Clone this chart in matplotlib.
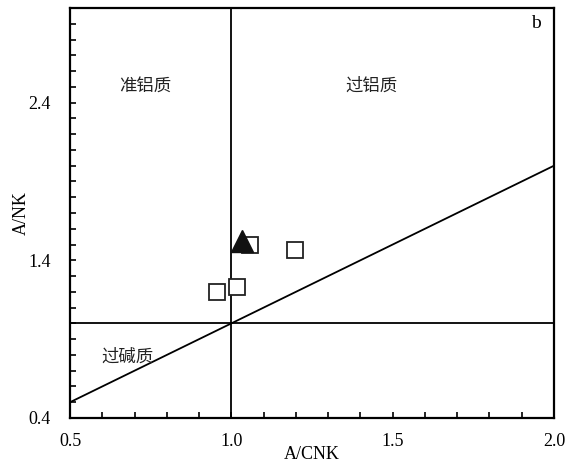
import matplotlib
matplotlib.use("Agg")
import matplotlib.pyplot as plt
import numpy as np
from matplotlib.ticker import MultipleLocator, FixedLocator

plt.rcParams['font.family'] = ['Liberation Serif', 'Noto Sans CJK SC']

# Data
square_x = [1.059, 1.196, 1.019, 0.956]
square_y = [1.497, 1.464, 1.232, 1.198]
tri_x = [1.033]
tri_y = [1.523]

line_x = [0.5, 2.0]
line_y = [0.5, 2.0]

x_ticks = [0.5, 1.0, 1.5, 2.0]
y_ticks = [0.4, 1.4, 2.4]

fig = plt.figure(figsize=(5.68, 4.66), dpi=100)
ax = fig.add_axes([70/568, 1-418/466, (554-70)/568, (418-8)/466])

ax.set_xlim(0.5, 2.0)
ax.set_ylim(0.4, 3.0)

ax.axvline(1.0, color='black', lw=1.3)
ax.axhline(1.0, color='black', lw=1.3)
ax.plot(line_x, line_y, color='black', lw=1.3)

ax.plot(square_x, square_y, linestyle='none', marker='s', markersize=12,
        markerfacecolor='white', markeredgecolor='#222222', markeredgewidth=1.3, zorder=3)
ax.plot(tri_x, tri_y, linestyle='none', marker='^', markersize=16,
        color='#111111', zorder=4)

cjk = ['Noto Sans CJK SC']
ax.text(0.733, 2.51, '准铝质', fontsize=12.5, ha='center', va='center', family=cjk, fontweight='light', color='#222222')
ax.text(1.434, 2.51, '过铝质', fontsize=12.5, ha='center', va='center', family=cjk, fontweight='light', color='#222222')
ax.text(0.677, 0.79, '过碱质', fontsize=12.5, ha='center', va='center', family=cjk, fontweight='light', color='#222222')
ax.text(1.943, 2.90, 'b', fontsize=14, ha='center', va='center')

ax.xaxis.set_major_locator(FixedLocator(x_ticks))
ax.xaxis.set_minor_locator(MultipleLocator(0.1))
ax.yaxis.set_major_locator(FixedLocator(y_ticks))
ax.yaxis.set_minor_locator(MultipleLocator(0.1))
ax.set_xticklabels([f'{v:.1f}' for v in x_ticks])
ax.set_yticklabels([f'{v:.1f}' for v in y_ticks])

ax.tick_params(which='both', direction='in', top=False, right=False, width=1.2, length=4,
               labelsize=13, colors='black')
ax.tick_params(axis='x', pad=11)
ax.tick_params(axis='y', pad=14)
for s in ax.spines.values():
    s.set_linewidth(1.6)

ax.set_xlabel('A/CNK', fontsize=13, labelpad=-3)
ax.set_ylabel('A/NK', fontsize=13, labelpad=-1)

fig.savefig('out.png', dpi=100)
